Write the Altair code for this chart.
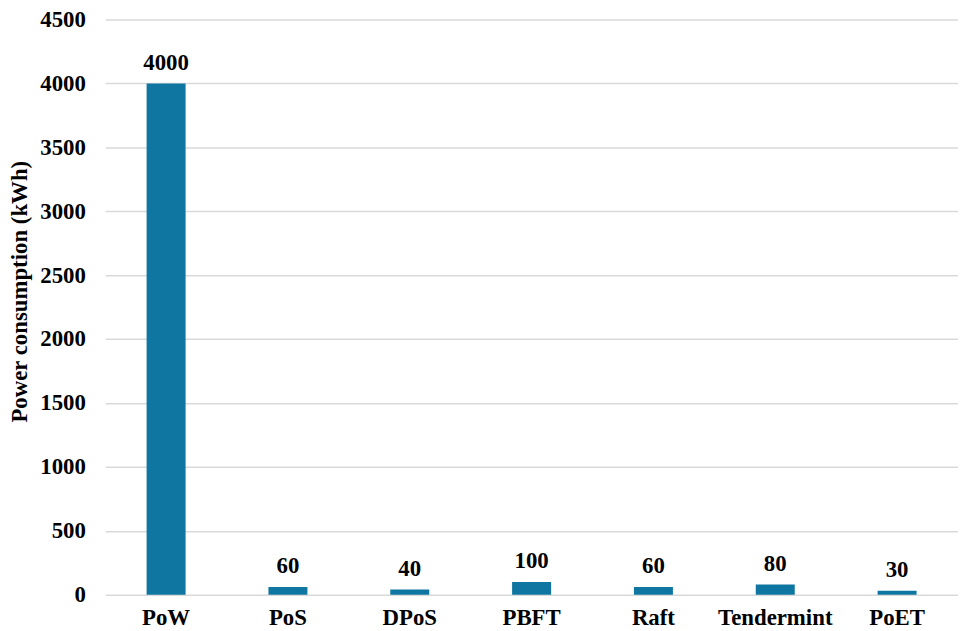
import altair as alt
import pandas as pd

categories = ["PoW", "PoS", "DPoS", "PBFT", "Raft", "Tendermint", "PoET"]
values = [4000, 60, 40, 100, 60, 80, 30]

df = pd.DataFrame({"cat": categories, "val": values})

FONT = "Liberation Serif"

x = alt.X("cat:N", sort=categories, title=None,
          scale=alt.Scale(paddingInner=0.68, paddingOuter=0.34),
          axis=alt.Axis(labelAngle=0, labelFont=FONT, labelFontSize=23, labelFontWeight="bold",
                        labelColor="black", ticks=False, domain=False, labelPadding=12))
y = alt.Y("val:Q", title="Power consumption (kWh)",
          scale=alt.Scale(domain=[0, 4500], nice=False),
          axis=alt.Axis(values=list(range(0, 4501, 500)), format="d", labelFont=FONT, labelFontSize=23,
                        labelFontWeight="bold", labelColor="black", ticks=False, domain=False,
                        labelPadding=20, titleFont=FONT, titleFontSize=23, titleFontWeight="bold",
                        titleColor="black", titlePadding=8, titleY=274,
                        gridColor="#d9d9d9", gridWidth=1.5))

bars = alt.Chart(df).mark_bar(color="#0E76A0").encode(x=x, y=y)
labels = alt.Chart(df).mark_text(font=FONT, fontSize=23, fontWeight="bold", color="black",
                                 baseline="alphabetic", dy=-14).encode(x=x, y=y, text=alt.Text("val:Q", format="d"))

chart = (bars + labels).properties(
    width=860, height=580,
    autosize=alt.AutoSizeParams(type="none"),
    padding={"left": 98, "top": 9, "right": 0, "bottom": 34},
).configure_view(stroke=None)

chart.save("out.html", embed_options={"renderer": "svg", "actions": False})
